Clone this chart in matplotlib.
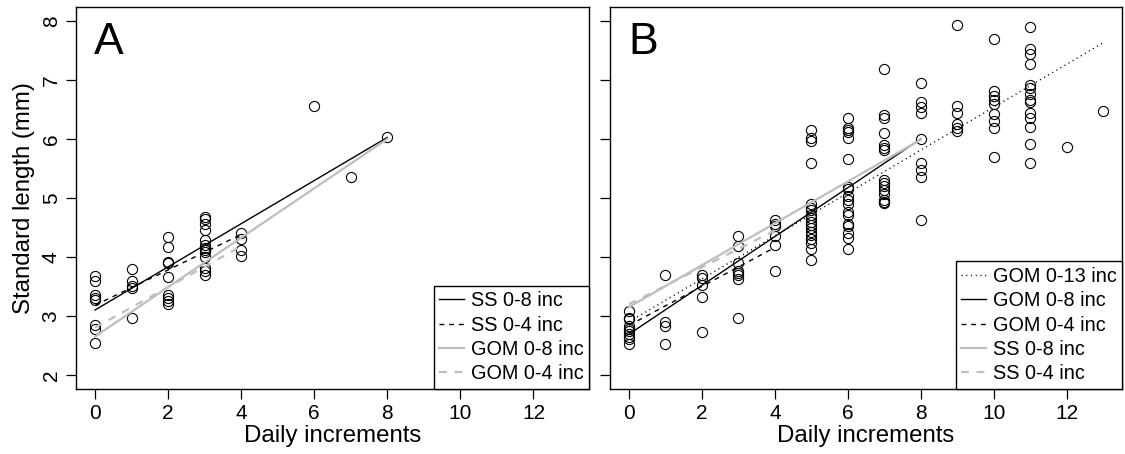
import matplotlib.pyplot as plt
import numpy as np

plt.rcParams['font.family'] = ['Liberation Sans', 'DejaVu Sans']

# panel A: observed points (daily increments, standard length mm)
a_x = [0]*8 + [1]*5 + [2]*9 + [3]*13 + [4]*4 + [6, 7, 8]
a_y = [3.67, 3.59, 3.36, 3.31, 3.27, 2.84, 2.78, 2.54,
       3.80, 3.59, 3.50, 3.48, 2.97,
       4.34, 4.17, 3.92, 3.89, 3.66, 3.36, 3.31, 3.25, 3.20,
       4.67, 4.64, 4.56, 4.46, 4.29, 4.21, 4.15, 4.12, 4.08, 4.00, 3.81, 3.76, 3.70,
       4.41, 4.30, 4.12, 4.02,
       6.56, 5.35, 6.03]

# panel B: observed points
b_x = ([0]*10 + [1]*4 + [2]*5 + [3]*8 + [4]*6 + [5]*18 + [6]*18 + [7]*15
       + [8]*9 + [9]*6 + [10]*9 + [11]*14 + [12, 13])
b_y = [3.08, 2.96, 2.95, 2.83, 2.78, 2.75, 2.70, 2.65, 2.60, 2.53,
       3.70, 2.90, 2.83, 2.53,
       3.70, 3.65, 3.53, 3.32, 2.72,
       4.35, 4.18, 3.90, 3.76, 3.72, 3.70, 3.63, 2.96,
       4.63, 4.56, 4.52, 4.36, 4.21, 3.77,
       6.16, 6.01, 5.97, 5.60, 4.90, 4.83, 4.80, 4.72, 4.66, 4.60, 4.55, 4.49,
       4.43, 4.38, 4.30, 4.24, 4.14, 3.94,
       6.35, 6.18, 6.15, 6.12, 6.01, 5.67, 5.18, 5.15, 5.03, 4.97, 4.90, 4.77,
       4.72, 4.56, 4.53, 4.41, 4.32, 4.14,
       7.19, 6.41, 6.35, 6.10, 5.90, 5.85, 5.81, 5.31, 5.25, 5.20, 5.13, 5.07,
       4.97, 4.94, 4.91,
       6.95, 6.63, 6.55, 6.45, 6.00, 5.60, 5.48, 5.35, 4.63,
       7.93, 6.56, 6.45, 6.26, 6.18, 6.13,
       7.70, 6.82, 6.73, 6.66, 6.60, 6.43, 6.31, 6.18, 5.70,
       7.90, 7.53, 7.44, 7.28, 6.91, 6.87, 6.77, 6.66, 6.63, 6.45, 6.35, 6.21,
       5.91, 5.59,
       5.86, 6.48]

# fitted lines: (label, x range end, intercept, slope, colour, style)
a_fits = [("SS 0-8 inc", 8, 3.10, 0.366, "black", "solid"),
          ("SS 0-4 inc", 4, 3.18, 0.300, "black", "dashed"),
          ("GOM 0-8 inc", 8, 2.65, 0.419, "#BEBEBE", "solid"),
          ("GOM 0-4 inc", 4, 2.80, 0.345, "#BEBEBE", "dashed")]
b_fits = [("GOM 0-13 inc", 13, 2.90, 0.364, "black", "dotted"),
          ("GOM 0-8 inc", 8, 2.69, 0.414, "black", "solid"),
          ("GOM 0-4 inc", 4, 2.84, 0.330, "black", "dashed"),
          ("SS 0-8 inc", 8, 3.15, 0.355, "#BEBEBE", "solid"),
          ("SS 0-4 inc", 4, 3.20, 0.312, "#BEBEBE", "dashed")]

styles = {"solid": "-", "dashed": (0, (3.5, 3.5)), "dotted": (0, (0.8, 2.6))}

fig = plt.figure(figsize=(11.25, 4.54), dpi=100)
W, H = 1125, 454
axA = fig.add_axes([76/W, 1-389/H, (589-76)/W, (389-7)/H])
axB = fig.add_axes([610/W, 1-389/H, (1122-610)/W, (389-7)/H])

for ax, xs, ys, fits, letter in [(axA, a_x, a_y, a_fits, "A"), (axB, b_x, b_y, b_fits, "B")]:
    ax.plot(xs, ys, 'o', mfc='none', mec='black', ms=7.3, mew=0.8, ls='none')
    handles = []
    for lab, xe, b0, b1, col, st in fits:
        xx = np.array([0, xe])
        lw = 1.0 if col == "black" else 1.6
        h, = ax.plot(xx, b0 + b1*xx, color=col, ls=styles[st], lw=lw, label=lab)
        handles.append(h)
    ax.set_xlim(-0.52, 13.52)
    ax.set_ylim(1.76, 8.24)
    ax.set_xticks(range(0, 13, 2))
    ax.set_yticks(range(2, 9))
    ax.tick_params(direction='out', length=7, width=0.9, labelsize=15, pad=4)
    for s in ax.spines.values():
        s.set_linewidth(1.0)
    ax.set_xlabel("Daily increments", fontsize=17.3, labelpad=1)
    ax.text(0.035, 0.96, letter, transform=ax.transAxes, fontsize=32, va='top', ha='left')
    leg = ax.legend(handles=handles, loc='lower right', borderaxespad=0, fancybox=False,
                    edgecolor='black', framealpha=1, fontsize=14.3, handlelength=1.25,
                    handletextpad=0.33, labelspacing=0.27, borderpad=0.28)
    leg.get_frame().set_linewidth(1.0)

axA.set_ylabel("Standard length (mm)", fontsize=17.3, labelpad=5)
for lbl in axA.get_yticklabels():
    lbl.set_rotation(90)
    lbl.set_va('center')
axB.tick_params(axis='y', labelleft=False)

fig.savefig("out.png", dpi=100)
